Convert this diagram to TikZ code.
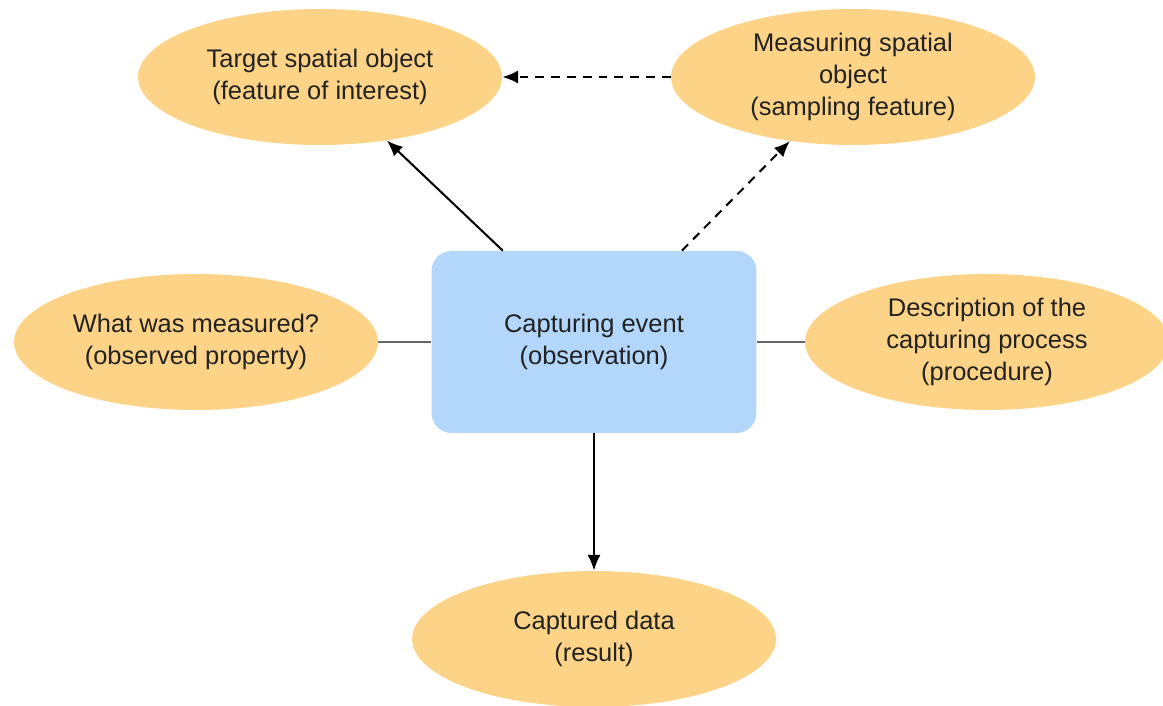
\documentclass[tikz,border=0pt]{standalone}
\usepackage{fontspec}
\setmainfont{Liberation Sans}
\usepackage{xcolor}
\usetikzlibrary{calc, shapes.geometric, arrows.meta}

\definecolor{camnhat}{HTML}{FDD487}
\definecolor{xanhnhat}{HTML}{B3D7FA}
\definecolor{chu}{HTML}{222222}
\definecolor{xam}{HTML}{666666}

\begin{document}
\begin{tikzpicture}[x=0.02cm, y=-0.02cm, >={Latex[length=9pt, width=7.5pt]},
    elip/.style={ellipse, fill=camnhat, minimum width=7.28cm, minimum height=2.72cm,
        inner sep=0pt, align=center, text=chu, font=\fontsize{14.5}{18}\selectfont},
    hop/.style={rectangle, rounded corners=0.4cm, fill=xanhnhat, minimum width=6.5cm,
        minimum height=3.64cm, align=center, text=chu, font=\fontsize{14.5}{18}\selectfont},
    noi/.style={line width=1.15pt},
    netdut/.style={line width=1.15pt, dash pattern=on 5pt off 4pt}]
    \useasboundingbox (0,0) rectangle (1163,706);

    % Các khối
    \node[elip] (dich) at (320,77) {Target spatial object\\(feature of interest)};
    \node[elip] (mau) at (853,77) {Measuring spatial\\object\\(sampling feature)};
    \node[elip] (tinhchat) at (196,342) {What was measured?\\(observed property)};
    \node[elip] (quytrinh) at (987,342) {Description of the\\capturing process\\(procedure)};
    \node[elip] (ketqua) at (594,639) {Captured data\\(result)};
    \node[hop] (quansat) at (594,342) {Capturing event\\(observation)};

    % Các mũi tên
    \draw[->, noi] ($(quansat.north west)!0.22!(quansat.north east)$) -- (dich);
    \draw[->, netdut] ($(quansat.north west)!0.77!(quansat.north east)$) -- (mau);
    \draw[->, netdut] (mau) -- (dich);
    \draw[->, noi] (quansat) -- (ketqua);

    % Đường nối hai bên
    \draw[xam, line width=1.4pt] (tinhchat) -- (quansat);
    \draw[xam, line width=1.4pt] (quansat) -- (quytrinh);
\end{tikzpicture}
\end{document}
